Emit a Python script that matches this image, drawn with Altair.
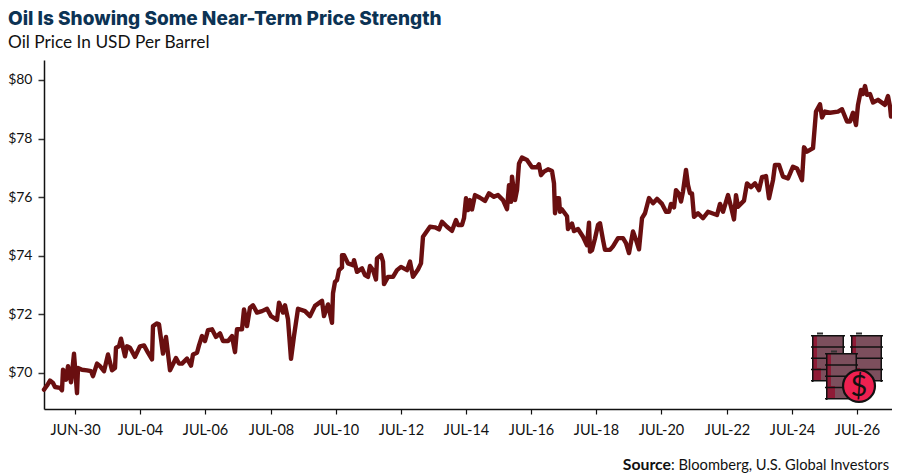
import altair as alt
import pandas as pd

FONT = "Lato"
INK = "#111111"
NAVY = "#0c3354"
LINE = "#6a0f10"

# observation index along the x axis (about 65 observations per labelled tick)
obs = [-31,-28,-25,-22,-20,-15,-13,-12,-9,-7,-4,-1,2,3,7,12,16,18,22,25,29,33,37,40,41,44,46,50,52,55,60,65,69,73,77,78,82,84,88,91,95,101,104,107,112,116,118,122,124,127,130,133,137,141,145,148,153,157,160,162,167,169,172,175,178,182,187,192,196,202,204,208,210,213,216,219,223,230,235,240,247,249,253,257,258,260,262,264,267,267,269,273,278,279,282,287,290,293,295,298,301,302,306,308,309,313,318,322,326,332,335,338,343,346,348,355,360,364,367,372,377,381,383,387,389,391,393,395,397,400,405,410,414,419,423,428,432,434,436,437,440,442,444,447,452,457,462,464,466,469,473,477,479,480,482,484,485,487,492,493,497,499,503,508,512,514,515,517,520,523,525,528,530,535,538,543,548,551,554,558,561,564,567,570,574,578,582,587,591,594,596,599,601,604,606,608,611,613,615,617,619,623,628,633,642,645,648,653,656,659,661,663,669,672,676,680,684,687,691,694,698,700,704,708,713,718,722,727,729,732,738,741,745,747,750,755,763,767,772,775,778,781,783,786,788,790,792,795,798,803,810,813,815,816]
price = [69.43,69.57,69.74,69.66,69.52,69.49,69.41,70.11,69.77,70.23,69.68,70.66,69.31,70.17,70.11,70.09,70.06,69.89,70.32,70.23,70.06,70.63,70.09,70.17,70.86,70.91,71.17,70.57,70.91,70.86,70.55,70.91,70.94,70.69,70.46,71.6,71.69,71.66,70.66,71.23,70.09,70.51,70.32,70.32,70.49,70.25,70.63,70.69,70.94,71.26,71.09,71.46,71.49,71.23,71.35,71.09,71.09,71.26,70.71,71.49,71.49,72.17,71.6,72.23,72.31,72.06,72.11,72.19,71.94,71.81,72.4,72.06,72.31,71.83,70.48,71.26,72.19,72.11,71.94,72.29,72.46,71.94,72.34,71.71,72.72,73.11,73.17,73.51,73.6,74.02,74.02,73.74,73.68,73.85,73.45,73.57,73.34,73.28,73.65,73.51,73.19,73.91,74.02,73.8,73.03,73.28,73.28,73.51,73.62,73.51,73.8,73.28,73.53,73.74,74.65,74.99,74.97,74.9,75.16,74.99,74.85,75.22,75.05,75.05,75.28,75.96,75.56,75.9,75.58,76.07,75.98,75.87,76.13,76.01,76.07,75.9,75.59,76.41,75.84,76.7,75.9,76.24,77.15,77.35,77.27,77.02,77.02,77.12,76.75,76.87,76.95,76.89,76.47,75.45,75.96,75.96,75.5,75.58,75.35,74.91,75.1,74.84,74.91,74.65,74.36,75.13,74.14,74.19,74.59,75.05,75.11,74.54,74.2,74.2,74.32,74.6,74.6,74.43,74.09,74.83,74.54,74.22,75.28,75.45,75.97,75.79,75.94,75.77,75.5,75.5,75.77,75.65,76.24,76.11,75.85,76.19,76.93,76.41,76.13,76.13,75.33,75.45,75.28,75.5,75.39,75.77,75.5,76.07,75.67,75.24,76.07,75.67,75.88,76.47,76.34,76.47,76.24,76.68,76.72,75.96,76.58,77.1,77.1,76.7,76.64,77.04,76.98,76.58,77.7,77.55,77.67,78.92,79.17,78.72,78.92,78.88,78.92,79.0,78.58,78.58,78.88,78.46,79.15,79.66,79.52,79.79,79.49,79.52,79.23,79.32,79.15,79.45,79.09,78.75]

tick_pos = [0,65,130,196,261,326,391,456,521,586,652,717,782]
tick_labels = ["JUN-30","JUL-04","JUL-06","JUL-08","JUL-10","JUL-12","JUL-14","JUL-16","JUL-18","JUL-20","JUL-22","JUL-24","JUL-26"]
y_ticks = [70,72,74,76,78,80]

n = min(len(obs), len(price))
df = pd.DataFrame({"obs": obs[:n], "price": price[:n]})

label_expr = "[" + ",".join(f"'{s}'" for s in tick_labels) + "][indexof([" + ",".join(map(str, tick_pos)) + "],datum.value)]"

line = alt.Chart(df).mark_line(color=LINE, strokeWidth=4.4, strokeJoin="round", strokeCap="round", interpolate="linear").encode(
    x=alt.X("obs:Q", scale=alt.Scale(domain=[-31, 817], nice=False, zero=False),
            axis=alt.Axis(values=tick_pos, labelExpr=label_expr, title=None, grid=False,
                          domainColor=INK, domainWidth=1.5, tickColor=INK, tickWidth=1.2, tickSize=5,
                          labelFont=FONT, labelFontSize=14.5, labelColor=INK, labelPadding=9, labelOverlap=False,
                          labelFlush=False)),
    y=alt.Y("price:Q", scale=alt.Scale(domain=[68.77, 80.68], nice=False, zero=False),
            axis=alt.Axis(values=y_ticks, format="$d", title=None, grid=False,
                          domainColor=INK, domainWidth=1.5, tickColor="#333333", tickWidth=1.5, tickSize=6,
                          labelFont=FONT, labelFontSize=14, labelColor=INK, labelPadding=6)),
)

# decorative barrel icon (page pixels converted to plot-relative pixels)
OX, OY = 44, 60
def box(x0, y0, x1, y1, fill):
    return alt.Chart(df.head(1)).mark_rect(color=fill).encode(
        x=alt.value(x0 - OX), x2=alt.value(x1 - OX), y=alt.value(y0 - OY), y2=alt.value(y1 - OY))

icon = []
def barrel(x0, x1, y0, y1):
    icon.append(box(x0, y0, x1, y1, "#7c4f5d"))
    icon.append(box(x0, y0, x0 + 5, y1, "#8f1b36"))
    icon.append(box(x0 + 4, y1 - 13, x0 + 9, y1, "#8f1b36"))
    icon.append(box(x0, y0 - 1, x0 + 1.5, y1 + 1, "#111111"))
    icon.append(box(x1 - 1.5, y0 - 1, x1, y1 + 1, "#111111"))
    for i in range(5):
        yy = y0 + (y1 - y0) * i / 4
        icon.append(box(x0 - 1, yy - 1, x1 + 1, yy + 0.6, "#111111"))
    icon.append(box(x0 + 5, y0 - 3.5, x0 + 11, y0 - 1.5, "#333333"))

barrel(812, 844, 336, 381)
barrel(851, 882, 336, 381)
barrel(826, 857, 354, 399)

circle = alt.Chart(df.head(1)).mark_point(shape="circle", filled=True, fill="#ee2050", stroke="#111111", strokeWidth=2.2, opacity=1, size=1020).encode(
    x=alt.value(859 - OX), y=alt.value(386 - OY))
dollar = alt.Chart(df.head(1)).mark_text(text="$", font=FONT, fontSize=29, color="#111111", align="center", baseline="middle").encode(
    x=alt.value(859 - OX), y=alt.value(386.5 - OY))

src_b = alt.Chart(df.head(1)).mark_text(text="Source", font=FONT, fontSize=15.8, fontWeight="bold", color=INK, align="right", baseline="alphabetic").encode(
    x=alt.value(671 - OX), y=alt.value(470 - OY))
src_r = alt.Chart(df.head(1)).mark_text(text=": Bloomberg, U.S. Global Investors", font=FONT, fontSize=14.7, color=INK, align="left", baseline="alphabetic").encode(
    x=alt.value(671 - OX), y=alt.value(470 - OY))

chart = alt.layer(line, *icon, circle, dollar, src_b, src_r).properties(
    width=848, height=349,
    padding={"left": 36, "top": 52, "right": 0, "bottom": 65},
    autosize=alt.AutoSizeParams(type="none"),
    title=alt.TitleParams(
        text="Oil Is Showing Some Near-Term Price Strength",
        subtitle="Oil Price In USD Per Barrel",
        anchor="start", frame="group", dx=-36, offset=9,
        font="Inter", fontSize=19, fontWeight=800, color=NAVY,
        subtitleFont=FONT, subtitleFontSize=17.3, subtitleColor=INK, subtitlePadding=4.5,
    ),
).configure_view(stroke=None)

chart.save("out.html", embed_options={"renderer": "svg", "actions": False})
